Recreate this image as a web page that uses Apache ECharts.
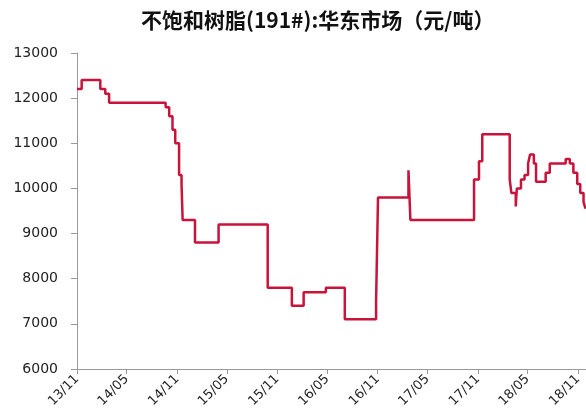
<!DOCTYPE html>
<html>
<head>
<meta charset="utf-8">
<script src="https://cdn.jsdelivr.net/npm/echarts@6/dist/echarts.min.js"></script>
<style>
  html, body { margin: 0; padding: 0; background: #fff; }
  #chart { width: 586px; height: 412px; }
</style>
</head>
<body>
<div id="chart"></div>
<script>
// Price change points: each date is when a new quoted price took effect
const dates = [
  '2013-11-01', '2013-11-18', '2014-01-25', '2014-02-12', '2014-02-26',
  '2014-09-20', '2014-10-03', '2014-10-15', '2014-10-25', '2014-11-08',
  '2014-11-17', '2014-11-21', '2015-01-05', '2015-04-01', '2015-09-27',
  '2015-12-24', '2016-02-05', '2016-04-26', '2016-07-04', '2016-10-26',
  '2016-11-02', '2017-02-21', '2017-02-28', '2017-10-18', '2017-11-05',
  '2017-11-17', '2018-02-25', '2018-03-03', '2018-03-19', '2018-03-23',
  '2018-04-07', '2018-04-20', '2018-05-03', '2018-05-10', '2018-05-24',
  '2018-06-01', '2018-07-06', '2018-07-21', '2018-09-17', '2018-10-02',
  '2018-10-15', '2018-10-29', '2018-11-09', '2018-11-21', '2018-11-28'
];
const prices = [
  12200, 12400, 12200, 12100, 11900,
  11800, 11600, 11300, 11000, 10300,
  10100, 9300, 8800, 9200, 7800,
  7400, 7700, 7800, 7100, 7500,
  9800, 10400, 9300, 10200, 10600,
  11200, 10200, 9900, 9600, 10000,
  10200, 10300, 10550, 10750, 10550,
  10150, 10350, 10550, 10650, 10550,
  10350, 10100, 9900, 9700, 9550
];

// Half-year tick marks on the date axis and their labels
const tickDates = [
  '2013-11-01', '2014-05-01', '2014-11-01', '2015-05-01', '2015-11-01',
  '2016-05-01', '2016-11-01', '2017-05-01', '2017-11-01', '2018-05-01',
  '2018-11-01'
];
const tickLabels = [
  '13/11', '14/05', '14/11', '15/05', '15/11',
  '16/05', '16/11', '17/05', '17/11', '18/05', '18/11'
];
const axisStart = '2013-11-01';
const axisEnd = '2018-11-30';

const yTicks = { min: 6000, max: 13000, step: 1000 };
const titleText = '不饱和树脂(191#):华东市场（元/吨）';

// Dates are placed on a linear millisecond scale
const toTime = d => Date.UTC(+d.slice(0, 4), +d.slice(5, 7) - 1, +d.slice(8, 10));
const tickTimes = tickDates.map(toTime);
const seriesData = dates.map((d, i) => [toTime(d), prices[i]]);

function labelFor(v) {
  let best = 0, bestD = Infinity;
  tickTimes.forEach((t, i) => {
    const d = Math.abs(t - v);
    if (d < bestD) { bestD = d; best = i; }
  });
  return tickLabels[best];
}

const chart = echarts.init(document.getElementById('chart'), null, { renderer: 'canvas' });
chart.setOption({
  animation: false,
  backgroundColor: '#ffffff',
  title: {
    text: titleText,
    left: 136,
    top: 5,
    textStyle: {
      fontFamily: '"Noto Sans CJK SC", sans-serif',
      fontSize: 21,
      fontWeight: 'bold',
      color: '#111111'
    }
  },
  grid: { left: 77, right: 0, top: 53, bottom: 43, containLabel: false },
  xAxis: {
    type: 'value',
    min: toTime(axisStart),
    max: toTime(axisEnd),
    axisLine: { show: true, onZero: false, lineStyle: { color: '#999999', width: 1 } },
    axisTick: {
      show: true,
      length: 5,
      lineStyle: { color: '#999999' },
      customValues: tickTimes
    },
    splitLine: { show: false },
    axisLabel: {
      customValues: tickTimes,
      rotate: 45,
      margin: 8,
      fontFamily: '"DejaVu Sans", sans-serif',
      fontSize: 13,
      color: '#222222',
      formatter: labelFor
    }
  },
  yAxis: {
    type: 'value',
    min: yTicks.min,
    max: yTicks.max,
    interval: yTicks.step,
    axisLine: { show: true, lineStyle: { color: '#999999', width: 1 } },
    axisTick: { show: true, length: 6, lineStyle: { color: '#999999' } },
    splitLine: { show: false },
    axisLabel: {
      margin: 19,
      fontFamily: '"DejaVu Sans", sans-serif',
      fontSize: 14,
      color: '#222222',
      formatter: v => String(v)
    }
  },
  series: [{
    type: 'line',
    step: 'end',
    data: seriesData,
    showSymbol: false,
    symbol: 'none',
    lineStyle: { color: '#C8133B', width: 2.5 }
  }]
});
</script>
</body>
</html>
